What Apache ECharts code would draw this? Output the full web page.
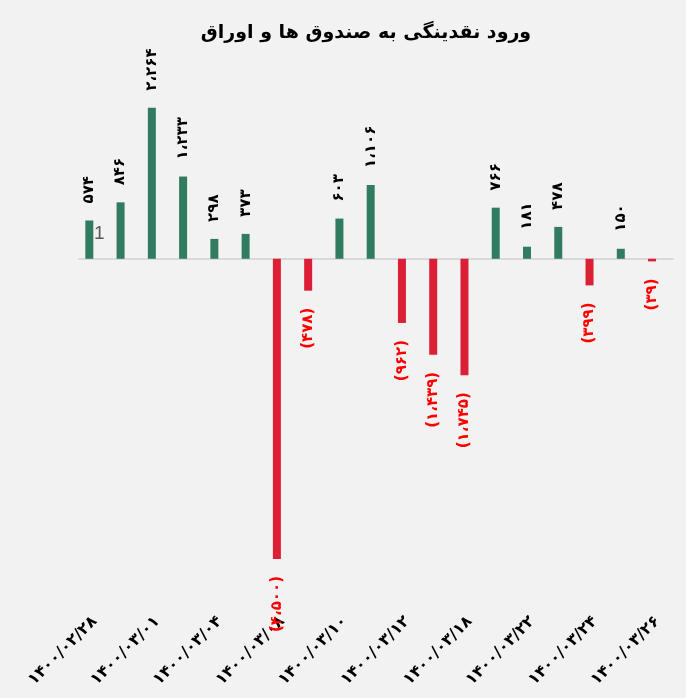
<!DOCTYPE html>
<html>
<head>
<meta charset="utf-8">
<script src="https://cdn.jsdelivr.net/npm/echarts@6/dist/echarts.min.js"></script>
<style>
html, body { margin: 0; padding: 0; background: #f2f2f2; }
#chart { width: 686px; height: 698px; }
</style>
</head>
<body>
<div id="chart"></div>
<script>
"use strict";
var chartTitle = 'ورود نقدینگی به صندوق ها و اوراق';

var dates = ['1400/02/28', '1400/02/29', '1400/03/01', '1400/03/03', '1400/03/04',
	'1400/03/05', '1400/03/08', '1400/03/09', '1400/03/10', '1400/03/11',
	'1400/03/12', '1400/03/17', '1400/03/18', '1400/03/19', '1400/03/22',
	'1400/03/23', '1400/03/24', '1400/03/25', '1400/03/26'];

var inflow = [574, 846, 2264, 1233, 298, 373, -4500, -478, 603, 1106,
	-962, -1439, -1745, 766, 181, 478, -399, 150, -39];

var greenColor = '#317c61';
var redColor = '#dc1f35';
var faFont = 'DejaVu Sans';

function toFa(str) {
	return String(str).replace(/[0-9]/g, function(d) {
		return '۰۱۲۳۴۵۶۷۸۹'.charAt(+d);
	});
}

function fmtNum(v) {
	var s = Math.abs(v).toString().replace(/\B(?=(\d{3})+(?!\d))/g, '،');
	s = toFa(s);
	return v < 0 ? '(' + s + ')' : s;
}

var chart = echarts.init(document.getElementById('chart'));

chart.setOption({
	backgroundColor : '#f2f2f2',
	animation : false,
	title : {
		text : chartTitle,
		left : 361,
		top : 19,
		textAlign : 'center',
		textStyle : {
			fontFamily : faFont,
			fontWeight : 'bold',
			fontSize : 19,
			color : '#000'
		}
	},
	graphic : [ {
		type : 'text',
		left : 94,
		top : 224,
		style : {
			text : '1',
			fontFamily : 'Liberation Sans',
			fontSize : 19,
			fill : '#595959'
		}
	} ],
	grid : {
		left : 79,
		right : 13,
		top : 92,
		height : 467
	},
	xAxis : [ {
		type : 'category',
		data : dates,
		axisLine : {
			onZero : true,
			lineStyle : { color : '#d9d9d9', width : 2 }
		},
		axisTick : { show : false },
		axisLabel : { show : false }
	}, {
		type : 'category',
		data : dates,
		position : 'bottom',
		offset : 50,
		axisLine : { show : false },
		axisTick : { show : false },
		axisLabel : {
			interval : 1,
			rotate : 45,
			margin : 10,
			fontFamily : faFont,
			fontWeight : 'bold',
			fontSize : 16,
			color : '#000',
			formatter : function(v) {
				return toFa(v);
			}
		}
	} ],
	yAxis : {
		type : 'value',
		min : -4500,
		max : 2500,
		show : false,
		splitLine : { show : false }
	},
	series : [ {
		name : 'ورود نقدینگی',
		type : 'bar',
		xAxisIndex : 0,
		barWidth : 8,
		barGap : '33%',
		data : inflow.map(function(v) {
			return {
				value : v,
				itemStyle : { color : v < 0 ? redColor : greenColor },
				label : {
					position : v < 0 ? 'bottom' : 'top',
					align : v < 0 ? 'right' : 'left',
					color : v < 0 ? '#ff0000' : '#000'
				}
			};
		}),
		label : {
			show : true,
			rotate : 90,
			distance : 17,
			verticalAlign : 'middle',
			fontFamily : faFont,
			fontWeight : 'bold',
			fontSize : 15,
			formatter : function(p) {
				return fmtNum(p.value);
			}
		}
	}, {
		// empty slot, keeps the bars left of the category centre like the original
		name : 'slot',
		type : 'bar',
		xAxisIndex : 0,
		barWidth : 8,
		data : []
	} ]
});
</script>
</body>
</html>
